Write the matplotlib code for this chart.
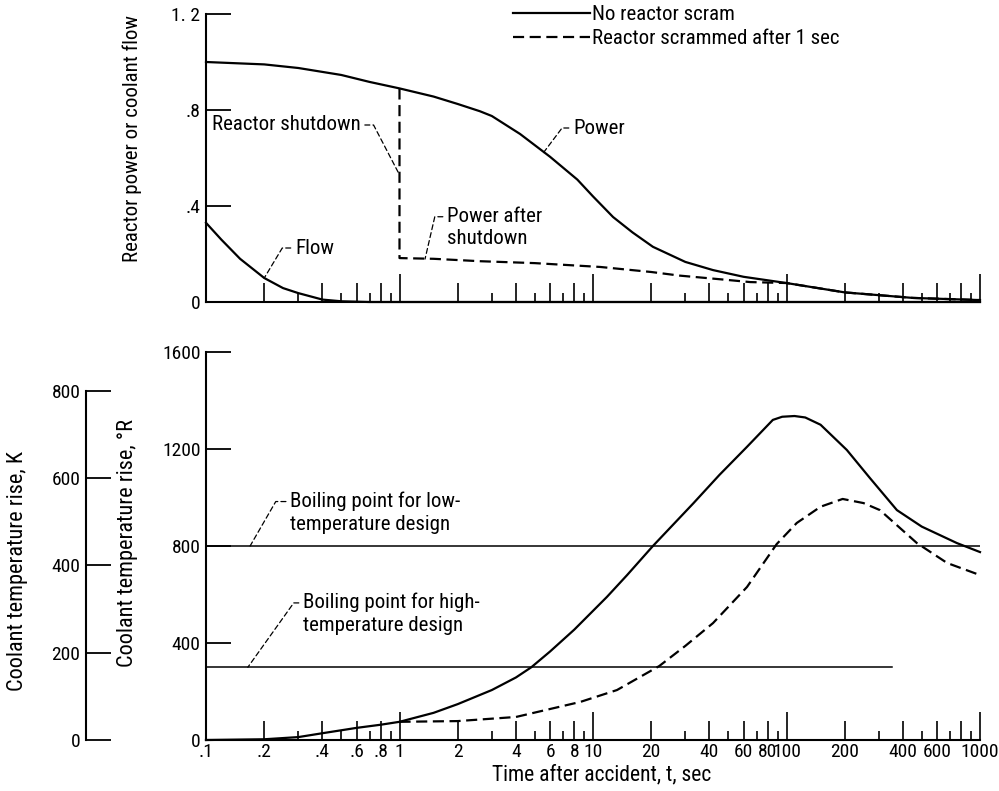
import matplotlib
matplotlib.use("Agg")
import matplotlib.pyplot as plt
from matplotlib import font_manager as fm
from matplotlib.ticker import NullLocator

# Prefer a narrow sans face for the typeset look; fall back to DejaVu Sans.
_entries = fm.fontManager.ttflist
_names = {f.name for f in _entries}
_narrow_families = ['Liberation Sans Narrow', 'Roboto Condensed', 'Open Sans Condensed',
                    'Noto Sans Condensed', 'Noto Sans Display Condensed',
                    'DejaVu Sans Condensed']
FAMILY = next((n for n in _narrow_families if n in _names), None)
STRETCH = 'normal'
if FAMILY is None:
    cond = [f for f in _entries if f.name in ('DejaVu Sans', 'Noto Sans', 'Open Sans', 'Roboto')
            and str(f.stretch) in ('condensed', 'semi-condensed', '500', '400', '300')]
    if cond:
        FAMILY = cond[0].name
        STRETCH = 'condensed'
NARROW = FAMILY is not None
if FAMILY is None:
    FAMILY = 'DejaVu Sans'
plt.rcParams['font.family'] = [FAMILY, 'DejaVu Sans']
plt.rcParams['font.stretch'] = STRETCH

# ---- upper panel: reactor power and coolant flow (fraction of rated) ----
power_t = [0.1, 0.2, 0.3, 0.5, 0.7, 1, 1.5, 2, 2.6, 3, 4.2, 6, 8.3, 10, 12.7,
           16, 20.4, 30, 41.7, 60, 100, 200, 450, 1000]
power_v = [1.0, 0.99, 0.975, 0.946, 0.917, 0.89, 0.856, 0.825, 0.795, 0.775, 0.70,
           0.605, 0.51, 0.44, 0.354, 0.29, 0.23, 0.167, 0.133, 0.105, 0.079, 0.04,
           0.017, 0.008]

flow_t = [0.1, 0.12, 0.15, 0.2, 0.25, 0.3, 0.4, 0.5, 0.7, 1000]
flow_v = [0.33, 0.26, 0.18, 0.10, 0.058, 0.037, 0.01, 0.003, 0.0, 0.0]

scram_t = [1, 1, 1.5, 2.6, 5, 10.9, 20, 28, 45, 65, 100, 200, 450, 1000]
scram_v = [0.89, 0.183, 0.18, 0.17, 0.162, 0.146, 0.125, 0.11, 0.095, 0.083,
           0.079, 0.04, 0.017, 0.008]

# ---- lower panel: coolant temperature rise, deg R ----
temp_t = [0.1, 0.2, 0.3, 0.4, 0.6, 0.8, 1, 1.5, 2, 3, 4, 4.8, 6, 8, 11.8, 15,
          20.4, 33, 45, 62.5, 85, 95, 110, 125, 150, 205, 270, 372, 500, 760, 1000]
temp_v = [0, 3, 12, 28, 50, 63, 75, 112, 148, 206, 258, 300, 365, 455, 590, 680,
          800, 976, 1093, 1209, 1320, 1333, 1336, 1330, 1300, 1196, 1080, 948, 880,
          812, 775]

scram_temp_t = [1, 2, 4, 8.6, 13.3, 22, 30, 41.7, 62.5, 89, 113, 150, 195, 250,
                304, 472, 676, 1000]
scram_temp_v = [75, 78, 95, 157, 206, 305, 388, 482, 631, 808, 895, 962, 994,
                977, 948, 812, 730, 680]

boil_low_t = [0.1, 1000]
boil_low_v = [800, 800]
boil_high_t = [0.1, 350]
boil_high_v = [300, 300]

# ---- axis ticks ----
decades = [0.1, 1, 10, 100, 1000]
decade_labels = ['.1', '1', '10', '100', '1000']
even_ticks = [0.2, 0.4, 0.6, 0.8, 2, 4, 6, 8, 20, 40, 60, 80, 200, 400, 600, 800]
even_labels = ['.2', '.4', '.6', '.8', '2', '4', '6', '8', '20', '40', '60', '80',
               '200', '400', '600', '']
odd_ticks = [0.3, 0.5, 0.7, 0.9, 3, 5, 7, 9, 30, 50, 70, 90, 300, 500, 700, 900]

power_yticks = [0, 0.4, 0.8, 1.2]
power_ylabels = ['0', '.4', '.8', '1. 2']
temp_yticks = [0, 400, 800, 1200, 1600]
kelvin_yticks = [0, 200, 400, 600, 800]

W, H = 999, 791
fig = plt.figure(figsize=(W / 100, H / 100), dpi=100)


def box(l, t, r, b):
    return [l / W, 1 - b / H, (r - l) / W, (b - t) / H]


ax_top = fig.add_axes(box(206, 14, 980, 302))
ax_bot = fig.add_axes(box(206, 352, 980, 740))
ax_k = fig.add_axes(box(86, 352, 96, 740))

LW = 1.6
SPINE = 1.5
if NARROW:
    TICK_FS, TEXT_FS, LABEL_FS, XLABEL_FS, TOPLABEL_FS = 14, 15, 16, 15.5, 15
else:
    TICK_FS, TEXT_FS, LABEL_FS, XLABEL_FS, TOPLABEL_FS = 11, 12, 12.5, 12, 12


def style_time_axis(ax, labels):
    ax.set_xscale('log')
    ax.set_xlim(0.1, 1000)
    ax.patch.set_visible(False)
    for s in ('top', 'right'):
        ax.spines[s].set_visible(False)
    for s in ('left', 'bottom'):
        ax.spines[s].set_linewidth(SPINE)
    if labels:
        ax.set_xticks(decades, labels=decade_labels)
        ax.set_xticks(even_ticks, labels=even_labels, minor=True)
    else:
        ax.set_xticks(decades, labels=[''] * len(decades))
        ax.set_xticks(even_ticks, labels=[''] * len(even_ticks), minor=True)
    ax.tick_params(axis='x', which='major', direction='in', length=20, width=1.2,
                   pad=2, labelsize=TICK_FS)
    ax.tick_params(axis='x', which='minor', direction='in', length=13.5, width=1.2,
                   pad=2, labelsize=TICK_FS)
    ax.tick_params(axis='y', which='major', direction='in', length=18, width=1.3,
                   pad=4, labelsize=TICK_FS)
    ax.yaxis.set_minor_locator(NullLocator())
    sec = ax.secondary_xaxis('bottom')
    sec.set_xticks(odd_ticks, labels=[''] * len(odd_ticks))
    sec.xaxis.set_minor_locator(NullLocator())
    sec.tick_params(axis='x', which='major', direction='in', length=6.5, width=1.2)
    sec.spines['bottom'].set_visible(False)


style_time_axis(ax_top, labels=False)
style_time_axis(ax_bot, labels=True)

# upper panel
ax_top.set_ylim(0, 1.2)
ax_top.set_yticks(power_yticks, labels=power_ylabels)
line_power, = ax_top.plot(power_t, power_v, color='black', lw=LW, clip_on=False)
ax_top.plot(flow_t, flow_v, color='black', lw=LW, clip_on=False)
line_scram, = ax_top.plot(scram_t, scram_v, color='black', lw=LW,
                          dashes=(5, 2.5), clip_on=False)

# lower panel
ax_bot.set_ylim(0, 1600)
ax_bot.set_yticks(temp_yticks)
ax_bot.plot(temp_t, temp_v, color='black', lw=LW, clip_on=False)
ax_bot.plot(scram_temp_t, scram_temp_v, color='black', lw=LW, dashes=(5, 2.5),
            clip_on=False)
ax_bot.plot(boil_low_t, boil_low_v, color='black', lw=1.1)
ax_bot.plot(boil_high_t, boil_high_v, color='black', lw=1.1)

# kelvin scale (deg R / 1.8)
ax_k.set_ylim(0, 1600 / 1.8)
ax_k.patch.set_visible(False)
for s in ('top', 'right', 'bottom'):
    ax_k.spines[s].set_visible(False)
ax_k.spines['left'].set_linewidth(SPINE)
ax_k.spines['left'].set_bounds(0, 800)
ax_k.set_xticks([])
ax_k.set_yticks(kelvin_yticks)
ax_k.tick_params(axis='y', direction='in', length=18, width=1.3, pad=4,
                 labelsize=TICK_FS)

# axis titles
ax_top.set_ylabel('Reactor power or coolant flow', fontsize=TOPLABEL_FS)
ax_top.yaxis.set_label_coords(142 / W, 1 - 139 / H, transform=fig.transFigure)
ax_bot.set_ylabel('Coolant temperature rise, °R', fontsize=LABEL_FS)
ax_bot.yaxis.set_label_coords(138 / W, 1 - 543 / H, transform=fig.transFigure)
ax_k.set_ylabel('Coolant temperature rise, K', fontsize=LABEL_FS)
ax_k.yaxis.set_label_coords(28 / W, 1 - 571 / H, transform=fig.transFigure)
ax_bot.set_xlabel('Time after accident, t, sec', fontsize=XLABEL_FS)
ax_bot.xaxis.set_label_coords(602 / W, 1 - 764 / H, transform=fig.transFigure)

# legend
ax_top.legend([line_power, line_scram],
              ['No reactor scram', 'Reactor scrammed after 1 sec'],
              loc='upper left', bbox_to_anchor=(513 / W, 1 - 5 / H),
              bbox_transform=fig.transFigure, frameon=False, fontsize=TEXT_FS,
              handlelength=77 / (TEXT_FS * 100 / 72), handletextpad=0.12,
              labelspacing=0.25, borderpad=0, borderaxespad=0)


def leader(ax, text, xy, xytext, angle, ha='left', relpos=(0, 0.5)):
    ax.annotate(text, xy=xy, xytext=xytext, textcoords='data', ha=ha, va='center',
                fontsize=TEXT_FS, linespacing=1.25,
                arrowprops=dict(arrowstyle='-', lw=0.9, color='black',
                                linestyle=(0, (4, 2.5)), shrinkA=1, shrinkB=0,
                                relpos=relpos,
                                connectionstyle=f'angle,angleA=0,angleB={angle},rad=0'))


leader(ax_top, 'Reactor shutdown', (1, 0.53), (0.63, 0.7375), 117.5,
       ha='right', relpos=(1, 0.5))
leader(ax_top, 'Flow', (0.2, 0.1), (0.288, 0.225), 59)
leader(ax_top, 'Power after\nshutdown', (1.355, 0.179), (1.76, 0.31), 77,
       relpos=(0, 0.76))
leader(ax_top, 'Power', (5.52, 0.62), (7.88, 0.725), 53)
leader(ax_bot, 'Boiling point for low-\ntemperature design', (0.169, 800),
       (0.272, 938), 60, relpos=(0, 0.76))
leader(ax_bot, 'Boiling point for high-\ntemperature design', (0.1645, 300),
       (0.317, 520), 54.5, relpos=(0, 0.76))

fig.savefig('out.png', dpi=100)
